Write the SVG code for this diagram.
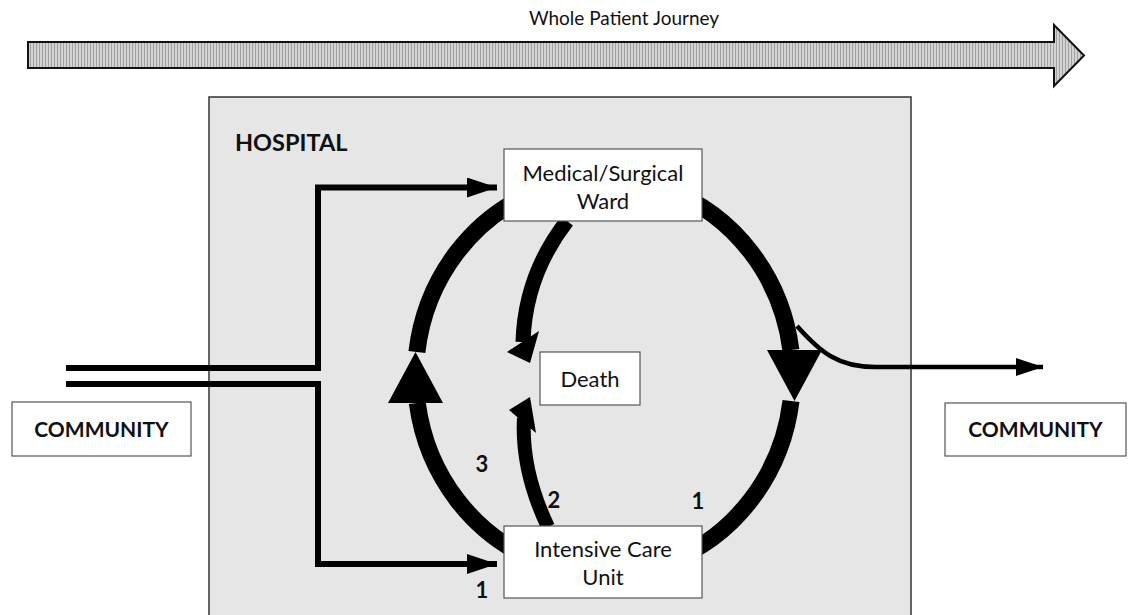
<svg xmlns="http://www.w3.org/2000/svg" width="1128" height="615" viewBox="0 0 1128 615">
  <defs>
    <pattern id="stripes" width="3" height="4" patternUnits="userSpaceOnUse">
      <rect width="3" height="4" fill="#d2d2d2"/>
      <rect width="1" height="4" fill="#a0a0a0"/>
    </pattern>
    <marker id="headIn" markerUnits="userSpaceOnUse" markerWidth="30" markerHeight="20" refX="30" refY="10" orient="auto">
      <path d="M0,0 L30,10 L0,20 Z" fill="#000"/>
    </marker>
    <marker id="headOut" markerUnits="userSpaceOnUse" markerWidth="27" markerHeight="18" refX="27" refY="9" orient="auto">
      <path d="M0,0 L27,9 L0,18 Z" fill="#000"/>
    </marker>
    <style>
      .box { fill: #ffffff; stroke: #555555; stroke-width: 1.2; }
      .t { font-family: Lato, "Open Sans", sans-serif; font-size: 22px; fill: #111; text-anchor: middle; }
      .b { font-family: Lato, "Open Sans", sans-serif; font-size: 22px; font-weight: bold; fill: #111; text-anchor: middle; }
      .thick { fill: none; stroke: #000; stroke-width: 17; stroke-linecap: butt; }
      .mid { fill: none; stroke: #000; stroke-width: 15; stroke-linecap: butt; }
      .thin { fill: none; stroke: #000; stroke-width: 6; }
      .out { fill: none; stroke: #000; stroke-width: 4.5; }
      .head { fill: #000; }
    </style>
  </defs>

  <rect width="1128" height="615" fill="#ffffff"/>

  <!-- Whole patient journey banner -->
  <g id="journey">
    <text class="t" x="624" y="25" style="font-size:19px">Whole Patient Journey</text>
    <polygon points="28,42 1054,42 1054,25 1084,55.5 1054,86 1054,68 28,68" fill="url(#stripes)" stroke="#111" stroke-width="2"/>
  </g>

  <!-- Hospital container -->
  <g id="hospital">
    <rect x="209" y="97" width="702" height="530" fill="#e6e6e6" stroke="#333" stroke-width="1.5"/>
    <text class="b" x="235" y="151" style="text-anchor:start;font-size:23.5px">HOSPITAL</text>
  </g>

  <!-- Connectors -->
  <g id="connectors">
    <!-- left flow ICU -> Ward -->
    <path class="thick" d="M540,562 A188.5,198 0 0 1 417.3,403"/>
    <polygon class="head" points="388,403 443,403 415.5,352"/>
    <path class="thick" d="M416.9,352 A188.5,198 0 0 1 540,190"/>
    <!-- right flow Ward -> ICU -->
    <path class="thick" d="M668,190 A188.5,198 0 0 1 790.9,350"/>
    <polygon class="head" points="767,350 822,350 794.5,401"/>
    <path class="thick" d="M791,401 A188.5,198 0 0 1 668,562"/>
    <!-- Ward -> Death -->
    <path class="mid" d="M567,221 Q525,275 523,342"/>
    <polygon class="head" points="507,352 539,331 530,363"/>
    <!-- ICU -> Death -->
    <path class="mid" d="M548,527 Q521,470 524,418" style="stroke-width:14"/>
    <polygon class="head" points="509,410 530,397 536,433"/>
    <!-- Community entry lines -->
    <path class="thin" d="M66,368 H318 V187.5 H497" marker-end="url(#headIn)"/>
    <path class="thin" d="M66,384 H318 V564 H497" marker-end="url(#headIn)"/>
    <!-- discharge to community -->
    <path class="out" d="M797,326 C820,352 838,367 875,367 H1043" marker-end="url(#headOut)"/>
  </g>

  <!-- Nodes -->
  <g id="ward">
    <rect class="box" x="504" y="149" width="198" height="72"/>
    <text class="t" x="603" y="181">Medical/Surgical</text>
    <text class="t" x="603" y="209">Ward</text>
  </g>
  <g id="death">
    <rect class="box" x="540" y="352" width="100" height="53"/>
    <text class="t" x="590" y="387">Death</text>
  </g>
  <g id="icu">
    <rect class="box" x="504" y="526" width="198" height="72"/>
    <text class="t" x="603" y="557">Intensive Care</text>
    <text class="t" x="603" y="585">Unit</text>
  </g>
  <g id="community-left">
    <rect class="box" x="12" y="402" width="179" height="54"/>
    <text class="b" x="101.5" y="437" style="font-size:21px">COMMUNITY</text>
  </g>
  <g id="community-right">
    <rect class="box" x="945" y="403" width="181" height="53"/>
    <text class="b" x="1035.5" y="437" style="font-size:21px">COMMUNITY</text>
  </g>

  <!-- Flow labels -->
  <g id="labels">
    <text class="b" x="482" y="472">3</text>
    <text class="b" x="554" y="508">2</text>
    <text class="b" x="698" y="509">1</text>
    <text class="b" x="482" y="598">1</text>
  </g>
</svg>
